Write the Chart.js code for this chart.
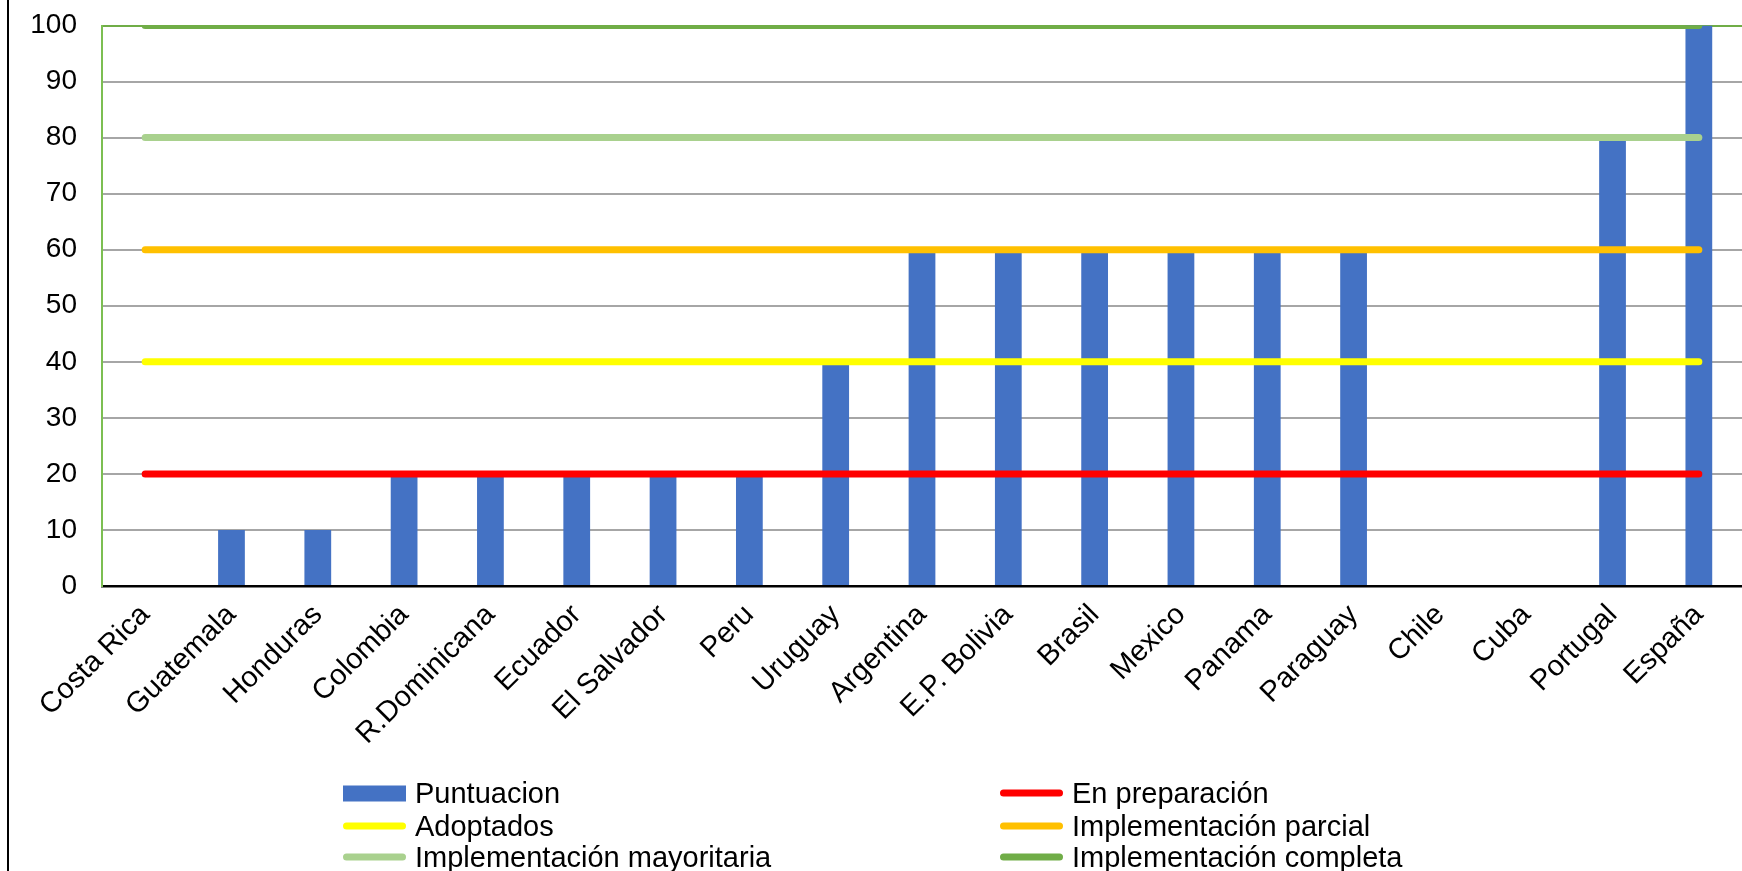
<!DOCTYPE html>
<html lang="es">
  <head>
    <meta charset="UTF-8" />
    <title>Puntuacion por pais</title>
    <style>
      body {
        margin: 0;
        background: #fff;
        font-family: "Liberation Sans", Arial, sans-serif;
        overflow: hidden;
      }
      #wrap {
        position: absolute;
        left: 0;
        top: 0;
        width: 1742px;
        height: 871px;
      }
      #marco {
        position: absolute;
        left: 7px;
        top: 0;
        width: 2px;
        height: 871px;
        background: #000;
      }
      #leyenda .item {
        position: absolute;
        display: flex;
        align-items: center;
        font-size: 29px;
        color: #000;
        white-space: nowrap;
        transform: translateY(-50%);
      }
      #leyenda .marca {
        width: 63px;
        margin-right: 9px;
      }
    </style>
    <script src="https://cdn.jsdelivr.net/npm/chart.js"></script>
  </head>
  <body>
    <div id="wrap">
      <canvas id="graph" width="1742" height="871"></canvas>
      <div id="marco"></div>
      <div id="leyenda"></div>
    </div>

    <script>
      // datos
      const paises = [
        "Costa Rica", "Guatemala", "Honduras", "Colombia", "R.Dominicana",
        "Ecuador", "El Salvador", "Peru", "Uruguay", "Argentina",
        "E.P. Bolivia", "Brasil", "Mexico", "Panama", "Paraguay",
        "Chile", "Cuba", "Portugal", "España",
      ];
      const puntuacion = [0, 10, 10, 20, 20, 20, 20, 20, 40, 60, 60, 60, 60, 60, 60, 0, 0, 80, 100];

      // niveles de referencia (una linea por nivel)
      const enPreparacion = [20, 20, 20, 20, 20, 20, 20, 20, 20, 20, 20, 20, 20, 20, 20, 20, 20, 20, 20];
      const adoptados = [40, 40, 40, 40, 40, 40, 40, 40, 40, 40, 40, 40, 40, 40, 40, 40, 40, 40, 40];
      const implParcial = [60, 60, 60, 60, 60, 60, 60, 60, 60, 60, 60, 60, 60, 60, 60, 60, 60, 60, 60];
      const implMayoritaria = [80, 80, 80, 80, 80, 80, 80, 80, 80, 80, 80, 80, 80, 80, 80, 80, 80, 80, 80];
      const implCompleta = [100, 100, 100, 100, 100, 100, 100, 100, 100, 100, 100, 100, 100, 100, 100, 100, 100, 100, 100];

      const yTicks = [0, 10, 20, 30, 40, 50, 60, 70, 80, 90, 100];

      const familia = "'Liberation Sans', Arial, sans-serif";

      function linea(label, data, color) {
        return {
          type: "line",
          label: label,
          data: data,
          borderColor: color,
          backgroundColor: color,
          borderWidth: 7,
          borderCapStyle: "round",
          pointRadius: 0,
          fill: false,
          order: 1,
        };
      }

      const datasets = [
        {
          type: "bar",
          label: "Puntuacion",
          data: puntuacion,
          backgroundColor: "#4472C4",
          categoryPercentage: 1,
          barPercentage: 0.31,
          order: 2,
        },
        linea("En preparación", enPreparacion, "#FF0000"),
        linea("Adoptados", adoptados, "#FFFF00"),
        linea("Implementación parcial", implParcial, "#FFC000"),
        linea("Implementación mayoritaria", implMayoritaria, "#A9D18E"),
        linea("Implementación completa", implCompleta, "#70AD47"),
      ];

      const chart = new Chart(document.getElementById("graph"), {
        data: { labels: paises, datasets: datasets },
        options: {
          responsive: false,
          animation: false,
          layout: { padding: { top: 25.5, left: 0, right: 0, bottom: 0 } },
          plugins: { legend: { display: false }, tooltip: { enabled: false } },
          scales: {
            x: {
              offset: true,
              grid: { display: false, drawTicks: false },
              border: { color: "#000", width: 2.5 },
              ticks: {
                color: "#000",
                font: { family: familia, size: 29 },
                autoSkip: false,
                minRotation: 45,
                maxRotation: 45,
                padding: 12,
              },
              afterFit: (s) => { s.height = 871 - 586; },
            },
            y: {
              min: 0,
              max: 100,
              afterBuildTicks: (s) => { s.ticks = yTicks.map((v) => ({ value: v })); },
              grid: {
                drawTicks: false,
                lineWidth: 2,
                color: (ctx) => (ctx.tick && ctx.tick.value === 100 ? "#70AD47" : "#A6A6A6"),
              },
              border: { color: "#7CBF52", width: 2 },
              ticks: { color: "#000", font: { family: familia, size: 28 }, padding: 25 },
              // el padding de los ticks no debe empujar el area del grafico hacia abajo
              afterFit: (s) => {
                s.width = 102;
                s.paddingTop = 0;
                s.paddingBottom = 0;
              },
            },
          },
        },
      });

      // leyenda en dos columnas, armada desde los datasets
      const cols = [343, 1000];
      const filas = [793, 826, 857];
      const leyenda = document.getElementById("leyenda");
      chart.data.datasets.forEach((ds, i) => {
        const item = document.createElement("div");
        item.className = "item";
        item.style.left = cols[i % 2] + "px";
        item.style.top = filas[Math.floor(i / 2)] + "px";
        const marca = document.createElement("span");
        marca.className = "marca";
        marca.style.background = ds.backgroundColor;
        if (ds.type === "bar") {
          marca.style.height = "16px";
        } else {
          marca.style.height = "7px";
          marca.style.borderRadius = "4px";
        }
        const txt = document.createElement("span");
        txt.textContent = ds.label;
        item.appendChild(marca);
        item.appendChild(txt);
        leyenda.appendChild(item);
      });
    </script>
  </body>
</html>
